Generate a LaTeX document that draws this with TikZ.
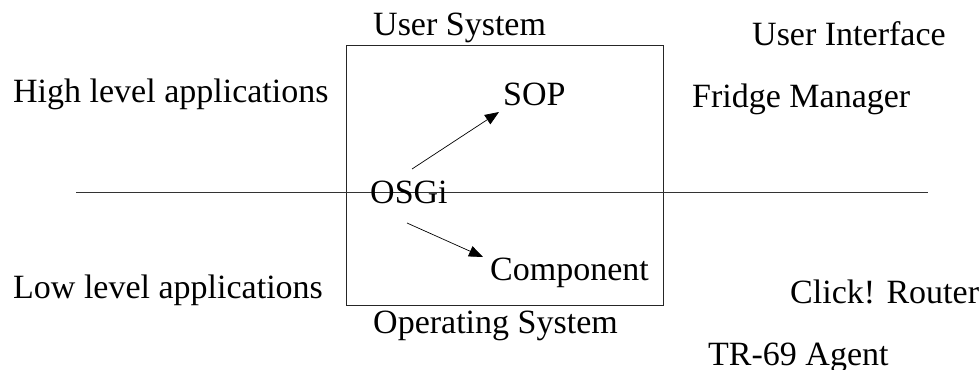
\documentclass[tikz,border=0pt]{standalone}
\usepackage{fontspec}
\setmainfont{Liberation Serif}
\usetikzlibrary{arrows.meta}
\tikzset{
  lbl/.style={anchor=base west, inner sep=0pt, font=\fontsize{34bp}{40bp}\selectfont},
  conn/.style={draw=black, line width=0.7bp, -{Triangle[length=14bp,width=11bp]}},
  frame/.style={draw=black!85, line width=0.9bp},
  divider/.style={draw=black!80, line width=1bp}
}
\begin{document}
\begin{tikzpicture}[x=1bp,y=-1bp]
\useasboundingbox (0,0) rectangle (980,369);
\draw[frame] (346,45) rectangle (663,305);
\coordinate (ls) at (76,192);
\coordinate (le) at (928,192);
\draw[divider] (ls) -- (le);
\node[lbl] (us) at (373,35) {User System};
\node[lbl] (ui) at (752,45) {User Interface};
\node[lbl] (hla) at (13,102) {High level applications};
\node[lbl] (sop) at (503,105) {SOP};
\node[lbl] (fm) at (692,107) {Fridge Manager};
\node[lbl] (osgi) at (370,203) {OSGi};
\node[lbl] (comp) at (490,280) {Component};
\node[lbl] (lla) at (13,298) {Low level applications};
\node[lbl] (click) at (790,303) {Click! Router};
\node[lbl] (os) at (373,333) {Operating System};
\node[lbl] (tr) at (708,365) {TR-69 Agent};
\draw[conn] ([shift={(42,-34)}]osgi.base west) -- ([shift={(-4,7)}]sop.base west);
\draw[conn] ([shift={(37,20)}]osgi.base west) -- ([shift={(-7,-23)}]comp.base west);
\end{tikzpicture}
\end{document}
